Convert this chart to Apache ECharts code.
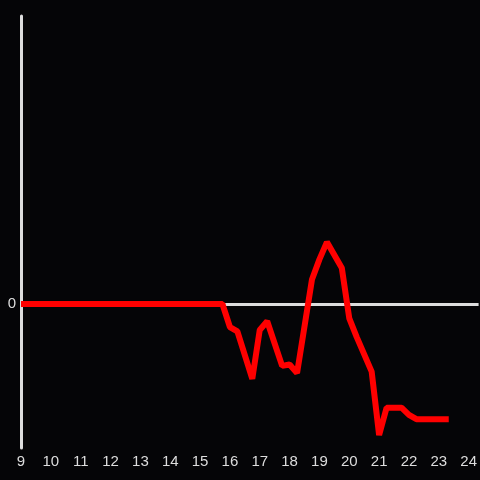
<!DOCTYPE html>
<html>
<head>
<meta charset="utf-8">
<script src="https://cdn.jsdelivr.net/npm/echarts@6/dist/echarts.min.js"></script>
<style>
    html, body { margin: 0; padding: 0; background: #050507; }
    #chart { width: 480px; height: 480px; }
</style>
</head>
<body>
<div id="chart"></div>
<script>
    // hours of the day (15 min steps where the line bends)
    var hours = [9, 15.75, 16, 16.25, 16.75, 17, 17.25, 17.75, 18, 18.25, 18.75, 19, 19.25,
                 19.75, 20, 20.25, 20.75, 21, 21.25, 21.75, 22, 22.25, 23.333];
    var values = [0, 0, -0.16, -0.19, -0.52, -0.18, -0.12, -0.43, -0.42, -0.48, 0.17, 0.31, 0.43,
                  0.25, -0.10, -0.23, -0.47, -0.91, -0.72, -0.72, -0.77, -0.80, -0.80];

    var xMin = 9, xMax = 24.333;
    var yMin = -1, yMax = 2;

    var points = hours.map(function (h, i) { return [h, values[i]]; });

    var myChart = echarts.init(document.getElementById('chart'));
    myChart.setOption({
        backgroundColor: '#050507',
        animation: false,
        textStyle: { fontFamily: 'Liberation Sans' },
        grid: { left: 21, right: 0, top: 16, bottom: 32 },
        xAxis: {
            type: 'value',
            min: xMin,
            max: xMax,
            interval: 1,
            axisLine: { show: false, onZero: false },
            axisTick: { show: false },
            splitLine: { show: false },
            axisLabel: {
                color: '#dddddd',
                fontFamily: 'Liberation Sans',
                fontSize: 15,
                margin: 6,
                showMaxLabel: false,
                formatter: function (v) { return Number.isInteger(v) ? String(v) : ''; }
            }
        },
        yAxis: {
            type: 'value',
            min: yMin,
            max: yMax,
            interval: 1,
            axisLine: { show: true, onZero: false, lineStyle: { color: '#dddddd', width: 3 } },
            axisTick: { show: false },
            splitLine: { show: false },
            axisLabel: {
                color: '#dddddd',
                fontFamily: 'Liberation Sans',
                fontSize: 15,
                margin: 5,
                formatter: function (v) { return v === 0 ? '0' : ''; }
            }
        },
        series: [{
            // zero line across the plot
            type: 'line',
            data: [],
            z: 1,
            markLine: {
                silent: true,
                symbol: 'none',
                label: { show: false },
                lineStyle: { color: '#dddddd', width: 3, type: 'solid' },
                data: [{ yAxis: 0 }]
            }
        }, {
            type: 'line',
            data: points,
            showSymbol: false,
            lineStyle: { color: '#ff0000', width: 6 },
            z: 5
        }]
    });
</script>
</body>
</html>
